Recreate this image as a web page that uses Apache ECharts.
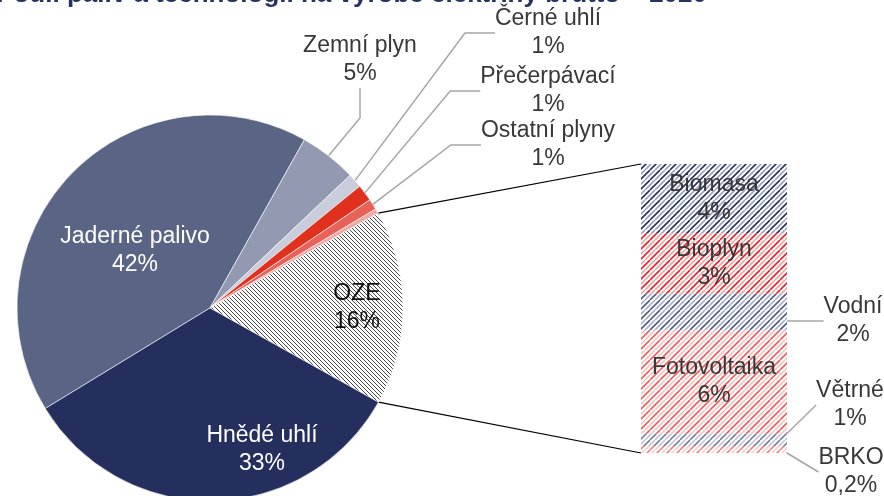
<!DOCTYPE html>
<html>
<head>
<meta charset="utf-8">
<script src="https://cdn.jsdelivr.net/npm/echarts@6/dist/echarts.min.js"></script>
<style>
  html, body { margin: 0; padding: 0; background: #fff; }
  #chart { width: 884px; height: 496px; }
</style>
</head>
<body>
<div id="chart"></div>
<script>
// hlavní koláč
const pieNames = ['Jaderné palivo', 'Zemní plyn', 'Černé uhlí', 'Přečerpávací', 'Ostatní plyny', 'Ostatní', 'OZE', 'Hnědé uhlí'];
const pieValues = [41.9, 4.8, 1.2, 1.4, 0.9, 0.4, 16.3, 33.2];
const pieLabels = ['42%', '5%', '1%', '1%', '1%', '', '16%', '33%'];

// rozpad OZE (sloupec)
const barNames = ['Biomasa', 'Bioplyn', 'Vodní', 'Fotovoltaika', 'Větrné', 'BRKO'];
const barValues = [3.9, 3.4, 2.1, 5.8, 0.7, 0.4];
const barLabels = ['4%', '3%', '2%', '6%', '1%', '0,2%'];

const FONT = '"Liberation Sans", Arial, sans-serif';
const TXT = '#383838';

// geometrie
const CX = 210, CY = 308, R = 193, START = 211.4;
const GRID = { left: 641, top: 164, width: 146, height: 289 };

const pieColors = ['#5a6586', '#9499b2', '#c9ccda', '#e0301e', '#e8625a', '#f3a9a3', null, '#252f5e'];
const pieLabelPos = [
  [135, 251, '#fff'], [360, 60, TXT], [548, 33, TXT], [548, 91, TXT],
  [548, 145, TXT], null, [357, 308, '#111'], [262, 450, '#fff']
];
const barLabelPos = [null, null, [853, 321], null, [850, 405], [851, 472]];

// šrafy
function hatch(dark, light, back) {
  const T = 10, c = document.createElement('canvas');
  c.width = c.height = T;
  const g = c.getContext('2d');
  g.fillStyle = '#fff';
  g.fillRect(0, 0, T, T);
  g.lineWidth = 1.6;
  for (let k = 0; k <= 4; k++) {
    const off = k * 5;
    g.strokeStyle = k % 2 ? light : dark;
    g.beginPath();
    if (back) { g.moveTo(off - T, 0); g.lineTo(off, T); }
    else { g.moveTo(off, 0); g.lineTo(off - T, T); }
    g.stroke();
  }
  return { image: c, repeat: 'repeat' };
}
function hatchOze() {
  const T = 8, c = document.createElement('canvas');
  c.width = c.height = T;
  const g = c.getContext('2d');
  g.fillStyle = '#fff';
  g.fillRect(0, 0, T, T);
  g.lineWidth = 0.8;
  g.strokeStyle = '#1a1a1a';
  for (let off = -8; off <= 8; off += 4) {
    g.beginPath(); g.moveTo(off, 0); g.lineTo(off + T, T); g.stroke();
  }
  return { image: c, repeat: 'repeat' };
}
pieColors[6] = hatchOze();
const barFills = [
  hatch('#27315f', '#9aa0c0'),
  hatch('#e3222a', '#f3a0a0'),
  hatch('#505b8a', '#a9aecb'),
  hatch('#ed5c5c', '#f8c0c0'),
  hatch('#77809f', '#c2c5d8'),
  hatch('#ee8282', '#fbcccc')
];

// spojnice koláč -> sloupec
const total = pieValues.reduce((a, b) => a + b, 0);
const ozeIdx = pieNames.indexOf('OZE');
const before = pieValues.slice(0, ozeIdx).reduce((a, b) => a + b, 0);
const a1 = (START - before / total * 360) * Math.PI / 180;
const a2 = (START - (before + pieValues[ozeIdx]) / total * 360) * Math.PI / 180;
const p1 = [CX + R * Math.cos(a1), CY - R * Math.sin(a1)];
const p2 = [CX + R * Math.cos(a2), CY - R * Math.sin(a2)];

const chart = echarts.init(document.getElementById('chart'), null, { renderer: 'canvas' });

const pieData = pieNames.map((n, i) => {
  const inside = i === 0 || i === 6 || i === 7;
  return {
    name: n,
    value: pieValues[i],
    itemStyle: { color: pieColors[i] },
    label: {
      show: pieLabels[i] !== '',
      position: inside ? 'inside' : 'outside',
      color: pieLabelPos[i] ? pieLabelPos[i][2] : TXT
    },
    labelLine: { show: !inside && pieLabels[i] !== '' }
  };
});

const barSum = barValues.reduce((a, b) => a + b, 0);
const barSeries = barNames.map((n, i) => ({
  type: 'bar',
  name: n,
  stack: 'oze',
  barWidth: '100%',
  data: [{ value: barValues[i], itemStyle: { color: barFills[i] } }],
  label: {
    show: true,
    position: barLabelPos[i] ? 'right' : 'inside',
    formatter: n + '\n' + barLabels[i],
    color: TXT,
    fontFamily: FONT,
    fontSize: 23,
    lineHeight: 28
  },
  labelLine: {
    show: !!barLabelPos[i],
    lineStyle: { color: '#a6a6a6', width: 1.5 }
  },
  labelLayout: barLabelPos[i]
    ? { x: barLabelPos[i][0], y: barLabelPos[i][1], align: 'center', verticalAlign: 'middle' }
    : null
})).reverse();

chart.setOption({
  animation: false,
  backgroundColor: '#fff',
  grid: GRID,
  xAxis: { type: 'category', data: [''], show: false },
  yAxis: { type: 'value', min: 0, max: barSum, show: false },
  graphic: [
    {
      type: 'text',
      style: {
        text: 'Podíl paliv a technologií na výrobě elektřiny brutto – 2020',
        x: 707, y: 8, align: 'right', verticalAlign: 'bottom',
        font: 'bold 26px ' + FONT, fill: '#263262'
      }
    },
    { type: 'line', shape: { x1: p1[0], y1: p1[1], x2: GRID.left, y2: GRID.top }, style: { stroke: '#000', lineWidth: 1.2 } },
    { type: 'line', shape: { x1: p2[0], y1: p2[1], x2: GRID.left, y2: GRID.top + GRID.height }, style: { stroke: '#000', lineWidth: 1.2 } }
  ],
  series: [
    {
      type: 'pie',
      center: [CX, CY],
      radius: [0, R],
      startAngle: START,
      clockwise: true,
      avoidLabelOverlap: false,
      itemStyle: { borderColor: '#fff', borderWidth: 0.6 },
      label: {
        formatter: (p) => p.name + '\n' + pieLabels[p.dataIndex],
        fontFamily: FONT,
        fontSize: 23,
        lineHeight: 28
      },
      labelLine: { lineStyle: { color: '#a6a6a6', width: 1.5 } },
      labelLayout: (p) => {
        const pos = pieLabelPos[p.dataIndex];
        if (!pos) return {};
        return { x: pos[0], y: pos[1], align: 'center', verticalAlign: 'middle' };
      },
      data: pieData
    }
  ].concat(barSeries)
});
</script>
</body>
</html>
